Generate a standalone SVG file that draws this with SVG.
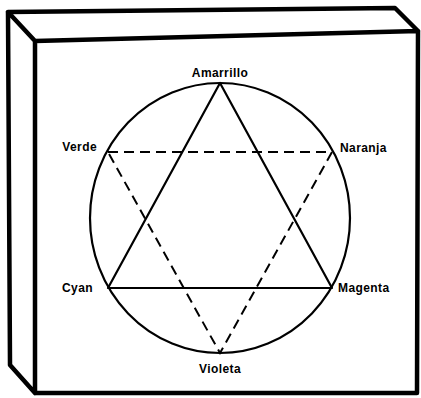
<svg xmlns="http://www.w3.org/2000/svg" width="421" height="398" viewBox="0 0 421 398">
<style>
.box{fill:none;stroke:#000;stroke-width:4.5;stroke-linejoin:round;stroke-linecap:round}
.ring{fill:none;stroke:#000;stroke-width:2.2}
.solid{fill:none;stroke:#000;stroke-width:2.2;stroke-linejoin:round}
.dash{fill:none;stroke:#000;stroke-width:2;stroke-dasharray:10 6}
.lbl{font-family:"Liberation Sans",Arial,sans-serif;font-weight:bold;font-size:12px;letter-spacing:0.4px;fill:#000}
</style>
<rect width="421" height="398" fill="#fff"/>
<g id="box">
<path class="box" d="M35,41 L8,12 L395,8 L418,31 M35,41 L418,31 L417,393 L35,393 Z M8,12 L10,365 L35,393"/>
</g>
<g id="circle">
<ellipse class="ring" cx="220" cy="218" rx="130" ry="135"/>
</g>
<g id="connectors">
<polygon class="solid" points="220,83 108,288 332,288"/>
<polygon class="dash" points="108,152 332,152 220,353"/>
</g>
<g id="amarrillo"><text class="lbl" x="220" y="77" text-anchor="middle">Amarrillo</text></g>
<g id="verde"><text class="lbl" x="97" y="151" text-anchor="end">Verde</text></g>
<g id="naranja"><text class="lbl" x="340" y="152">Naranja</text></g>
<g id="cyan"><text class="lbl" x="93" y="292" text-anchor="end">Cyan</text></g>
<g id="magenta"><text class="lbl" x="338" y="292">Magenta</text></g>
<g id="violeta"><text class="lbl" x="220" y="373" text-anchor="middle">Violeta</text></g>
</svg>
